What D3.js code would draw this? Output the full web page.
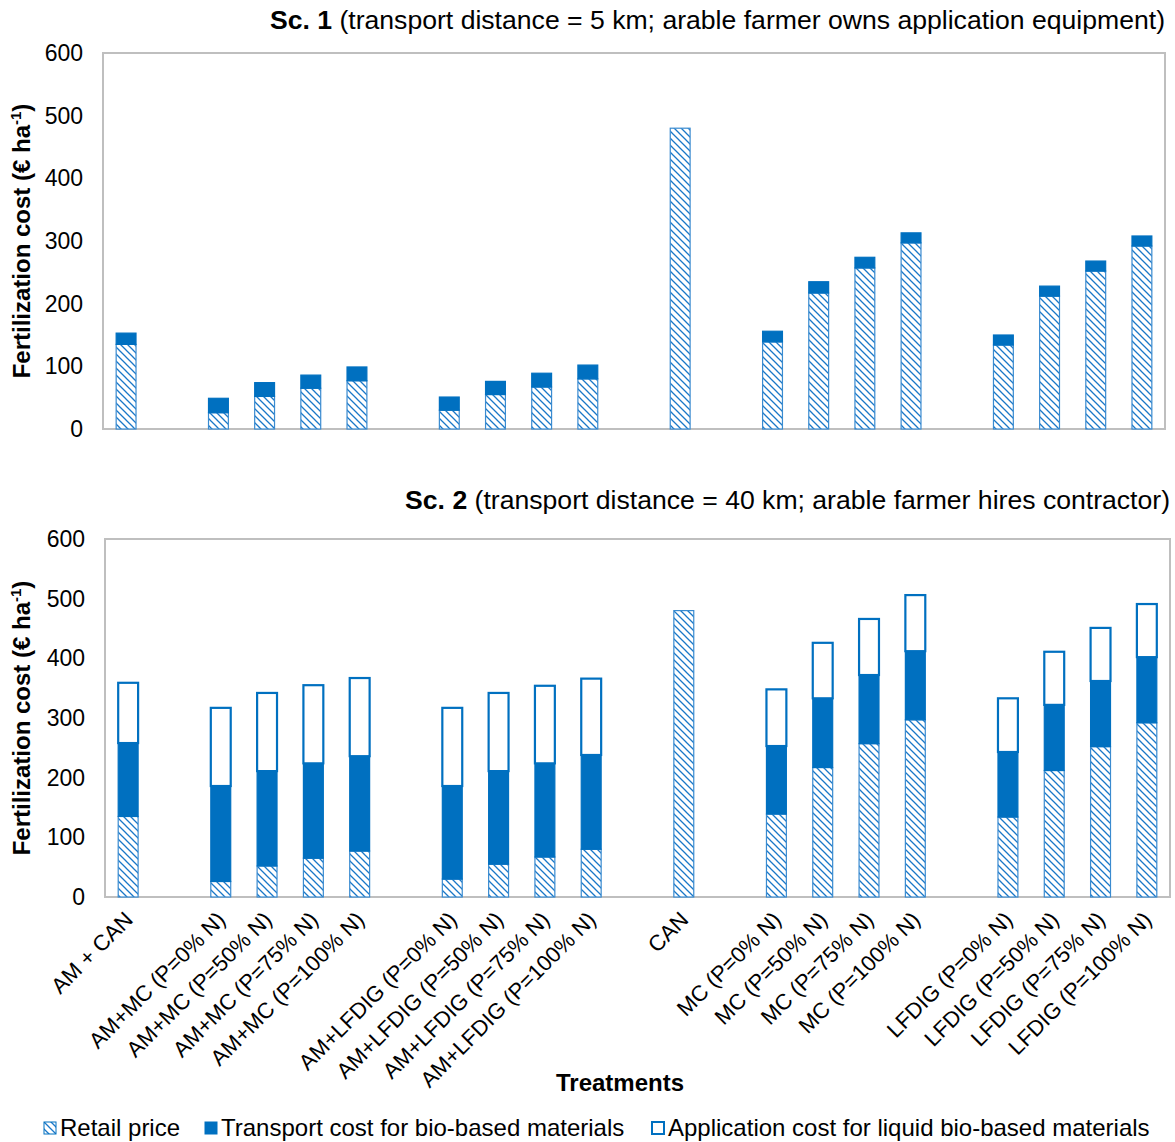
<!DOCTYPE html>
<html lang="en">
<head>
<meta charset="UTF-8">
<title>Fertilization cost</title>
<script src="https://d3js.org/d3.v7.min.js"></script>
<style>
    body { margin: 0; background: #fff; }
    svg text { font-family: "Liberation Sans", Arial, sans-serif; fill: #000; }
</style>
</head>
<body>
<svg id="chart" width="1175" height="1142"></svg>
<script>
    // treatments (bars), groups separated by an empty slot
    const categories = [
        "AM + CAN",
        "AM+MC (P=0% N)", "AM+MC (P=50% N)", "AM+MC (P=75% N)", "AM+MC (P=100% N)",
        "AM+LFDIG (P=0% N)", "AM+LFDIG (P=50% N)", "AM+LFDIG (P=75% N)", "AM+LFDIG (P=100% N)",
        "CAN",
        "MC (P=0% N)", "MC (P=50% N)", "MC (P=75% N)", "MC (P=100% N)",
        "LFDIG (P=0% N)", "LFDIG (P=50% N)", "LFDIG (P=75% N)", "LFDIG (P=100% N)"
    ];
    const groupSizes = [1, 4, 4, 1, 4, 4];

    // € per ha
    const retail       = [135, 26, 52, 65, 77, 30, 55, 67, 80, 480, 139, 217, 257, 297, 134, 212, 252, 292];
    const transportSc1 = [18, 23, 22, 21, 22, 21, 21, 22, 22, 0, 17, 18, 17, 16, 16, 16, 16, 16];
    const applicSc1    = [0, 0, 0, 0, 0, 0, 0, 0, 0, 0, 0, 0, 0, 0, 0, 0, 0, 0];
    const transportSc2 = [123, 160, 159, 159, 159, 156, 156, 157, 158, 0, 114, 116, 115, 115, 109, 110, 110, 110];
    const applicSc2    = [101, 131, 131, 131, 131, 131, 131, 130, 128, 0, 95, 93, 94, 94, 90, 89, 89, 89];

    const yTicks = [0, 100, 200, 300, 400, 500, 600];
    const legendNames = ["Retail price", "Transport cost for bio-based materials", "Application cost for liquid bio-based materials"];

    const blue = "#0070C0";
    const svg = d3.select("#chart");

    // hatch pattern for retail price
    const defs = svg.append("defs");
    const pat = defs.append("pattern")
        .attr("id", "hatch")
        .attr("patternUnits", "userSpaceOnUse")
        .attr("width", 7).attr("height", 7);
    pat.append("rect").attr("width", 7).attr("height", 7).attr("fill", "#fff");
    pat.append("path")
        .attr("d", "M0,0 L7,7 M-1,6 L1,8 M6,-1 L8,1")
        .attr("stroke", "#1a78c8")
        .attr("stroke-width", 1.3);

    // slot keys incl. gaps
    const slots = [];
    let idx = 0;
    groupSizes.forEach((n, gi) => {
        for (let i = 0; i < n; i++) slots.push(categories[idx++]);
        if (gi < groupSizes.length - 1) slots.push("gap" + gi);
    });

    function drawPanel(box, transport, applic, titleBold, titleRest, titleY, showLabels) {
        const rows = categories.map((c, i) => ({
            cat: c, retail: retail[i], transport: transport[i], applic: applic[i]
        }));
        const stack = d3.stack().keys(["retail", "transport", "applic"])(rows);

        const x = d3.scaleBand().domain(slots)
            .range([box.left, box.right])
            .paddingInner(0.57).paddingOuter(0.285);
        const y = d3.scaleLinear().domain([0, 600]).range([box.bottom, box.top]);

        // title
        const t = svg.append("text")
            .attr("x", box.right).attr("y", titleY)
            .attr("text-anchor", "end")
            .style("font-size", "26.6px");
        t.append("tspan").style("font-weight", "bold").text(titleBold);
        t.append("tspan").text(" " + titleRest);

        // y axis labels
        const yAxis = d3.axisLeft(y).tickValues(yTicks).tickSize(0).tickPadding(20);
        const ga = svg.append("g").attr("transform", `translate(${box.left},0)`).call(yAxis);
        ga.select(".domain").remove();
        ga.selectAll("text")
            .style("font-size", "23px")
            .style("font-family", "'Liberation Sans', Arial, sans-serif")
            .attr("fill", "#000");

        const yl = svg.append("text")
            .attr("transform", `translate(30,${(box.top + box.bottom) / 2}) rotate(-90)`)
            .attr("text-anchor", "middle")
            .style("font-size", "24px").style("font-weight", "bold");
        yl.append("tspan").text("Fertilization cost (€ ha");
        yl.append("tspan").attr("dy", -9).style("font-size", "15px").text("-1");
        yl.append("tspan").attr("dy", 9).text(")");

        // plot frame
        svg.append("rect")
            .attr("x", box.left).attr("y", box.top)
            .attr("width", box.right - box.left).attr("height", box.bottom - box.top)
            .attr("fill", "none").attr("stroke", "#bfbfbf").attr("stroke-width", 2);

        const fills = { retail: "url(#hatch)", transport: blue, applic: "#fff" };
        stack.forEach(layer => {
            svg.append("g").selectAll("rect")
                .data(layer.filter(d => d[1] - d[0] > 0))
                .join("rect")
                .attr("x", d => x(d.data.cat))
                .attr("width", x.bandwidth())
                .attr("y", d => y(d[1]))
                .attr("height", d => y(d[0]) - y(d[1]))
                .attr("fill", fills[layer.key])
                .attr("stroke", layer.key === "retail" ? "#3a8bd0" : blue)
                .attr("stroke-width", layer.key === "applic" ? 2.2 : 1.2);
        });

        if (showLabels) {
            svg.append("g").selectAll("text")
                .data(categories)
                .join("text")
                .attr("transform", d => `translate(${x(d) + x.bandwidth() / 2 + 6},${box.bottom + 24}) rotate(-45)`)
                .attr("text-anchor", "end")
                .style("font-size", "22px")
                .text(d => d);
        }
        return x;
    }

    drawPanel({ left: 103, right: 1165, top: 53, bottom: 429 },
        transportSc1, applicSc1, "Sc. 1",
        "(transport distance = 5 km; arable farmer owns application equipment)", 29, false);
    drawPanel({ left: 105, right: 1170, top: 539, bottom: 897 },
        transportSc2, applicSc2, "Sc. 2",
        "(transport distance = 40 km; arable farmer hires contractor)", 509, true);

    svg.append("text")
        .attr("x", 620).attr("y", 1091)
        .attr("text-anchor", "middle")
        .style("font-size", "24px").style("font-weight", "bold")
        .text("Treatments");

    // legend
    const legX = [44, 205, 652];
    const legFill = ["url(#hatch)", blue, "#fff"];
    const leg = svg.append("g");
    legendNames.forEach((name, i) => {
        leg.append("rect")
            .attr("x", legX[i]).attr("y", 1122)
            .attr("width", 12).attr("height", 12)
            .attr("fill", legFill[i])
            .attr("stroke", blue).attr("stroke-width", i === 2 ? 2 : 1);
        leg.append("text")
            .attr("x", legX[i] + 16).attr("y", 1136)
            .style("font-size", "24px")
            .text(name);
    });
</script>
</body>
</html>
